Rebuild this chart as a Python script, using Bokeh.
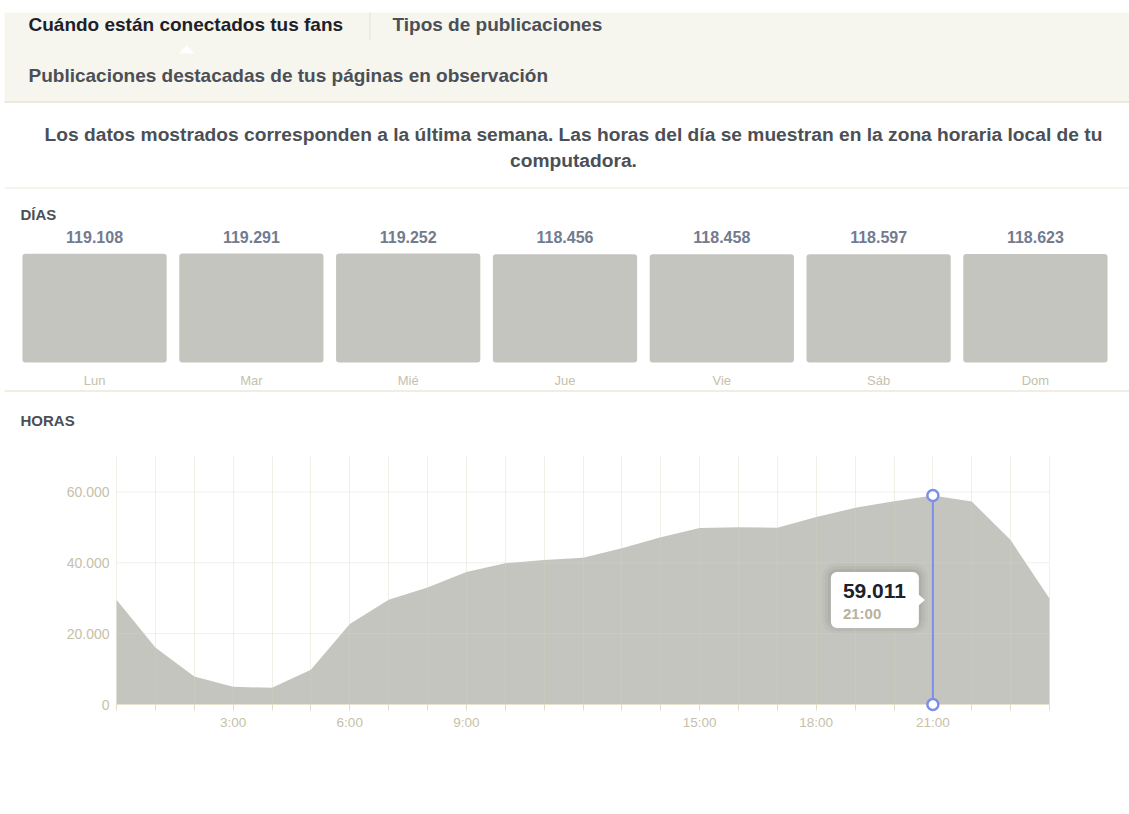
from bokeh.plotting import figure
from bokeh.layouts import column
from bokeh.models import Range1d, FactorRange, FixedTicker, LinearAxis
from bokeh.core.properties import value
from bokeh.embed import file_html
from bokeh.resources import INLINE

FONT = "Liberation Sans"

# ---------------- data ----------------
tabs = ["Cuándo están conectados tus fans", "Tipos de publicaciones",
        "Publicaciones destacadas de tus páginas en observación"]
subtitle_lines = [
    "Los datos mostrados corresponden a la última semana. Las horas del día se muestran en la zona horaria local de tu",
    "computadora.",
]
days_title = "DÍAS"
hours_title = "HORAS"
days = ["Lun", "Mar", "Mié", "Jue", "Vie", "Sáb", "Dom"]
day_fans = [119108, 119291, 119252, 118456, 118458, 118597, 118623]
hours = list(range(25))
hour_fans = [29600, 16100, 7900, 5000, 4700, 9800, 22700, 29600, 33000, 37400,
             39900, 40800, 41400, 44100, 47200, 49800, 50000, 49900, 52900,
             55500, 57400, 59011, 57300, 46400, 29900]
y_ticks = [0, 20000, 40000, 60000]
y_tick_labels = ["0", "20.000", "40.000", "60.000"]
x_label_hours = [3, 6, 9, 15, 18, 21]
x_tick_labels = ["3:00", "6:00", "9:00", "15:00", "18:00", "21:00"]
highlight_hour = 21
highlight_label = "21:00"


def fmt(n):
    return f"{n:,}".replace(",", ".")


W = 1129
DARK = "#1d2129"
GRAY = "#4b4f56"
BEIGE_LINE = "#ebe8d9"
BEIGE_TEXT = "#c5c1a9"
AREA = "#c5c5c0"
BLUE = "#7b8ee8"


def pixel_fig(top, bottom):
    f = figure(width=W, height=bottom - top, x_range=Range1d(0, W),
               y_range=Range1d(bottom, top), toolbar_location=None,
               output_backend="svg", min_border=0, x_axis_location=None,
               y_axis_location=None, outline_line_color=None)
    f.xgrid.visible = False
    f.ygrid.visible = False
    return f


def txt(f, x, y, s, size, color, bold=True, align="left"):
    f.text(x=[x], y=[y], text=[s], text_font=value(FONT), text_font_size=size,
           text_font_style="bold" if bold else "normal", text_color=color,
           text_baseline="middle", text_align=align)


# ---------------- header ----------------
A_TOP, A_BOT = 0, 226
pa = pixel_fig(A_TOP, A_BOT)
pa.quad(left=[4], right=[W], top=[12], bottom=[102],
        fill_color="#f6f5ee", line_color=None)
pa.segment(x0=[4], x1=[W], y0=[101.5], y1=[101.5], line_color="#e8e5d5", line_width=1.5)
pa.segment(x0=[369.5], x1=[369.5], y0=[12], y1=[40], line_color="#e8e5d5", line_width=1)
pa.patch([178, 186, 194], [53, 45, 53], fill_color="white", line_color=None)
txt(pa, 28, 24, tabs[0], "19px", DARK)
txt(pa, 392, 24, tabs[1], "19px", GRAY)
txt(pa, 28, 75, tabs[2], "19px", GRAY)
txt(pa, 573, 134, subtitle_lines[0], "19.2px", GRAY, align="center")
txt(pa, 573, 160, subtitle_lines[1], "19.2px", GRAY, align="center")
pa.segment(x0=[4], x1=[W], y0=[187.5], y1=[187.5], line_color=BEIGE_LINE, line_width=1)
txt(pa, 20, 214, days_title, "15px", GRAY)

# ---------------- days bars ----------------
B_TOP, B_BASE, B_BOT = 226, 362, 388
BAR_PX = 109
ubar = max(day_fans) / BAR_PX            # fans per pixel
pb = figure(width=W, height=B_BOT - B_TOP,
            x_range=FactorRange(factors=days, range_padding=0.1,
                                range_padding_units="absolute"),
            y_range=Range1d(-(B_BOT - B_BASE) * ubar, (B_BASE - B_TOP) * ubar),
            toolbar_location=None, output_backend="svg",
            min_border=0, y_axis_location=None, outline_line_color=None)
pb.xgrid.visible = False
pb.ygrid.visible = False
pb.vbar(x=days, top=day_fans, width=0.92, fill_color=AREA, line_color=None,
        border_radius=3)
pb.text(x=days, y=day_fans, text=[fmt(v) for v in day_fans], text_font=value(FONT),
        text_font_size="16px", text_font_style="bold", text_color="#727b90",
        text_align="center", text_baseline="alphabetic", y_offset=-17)
pb.xaxis.fixed_location = 0
pb.xaxis.axis_line_color = None
pb.xaxis.major_tick_line_color = None
pb.xaxis.major_tick_out = 0
pb.xaxis.major_tick_in = 0
pb.xaxis.minor_tick_line_color = None
pb.xaxis.major_label_text_font = FONT
pb.xaxis.major_label_text_font_size = "13px"
pb.xaxis.major_label_text_color = BEIGE_TEXT
pb.xaxis.major_label_standoff = 10

# ---------------- separator + HORAS ----------------
S_TOP, S_BOT = 388, 440
ps = pixel_fig(S_TOP, S_BOT)
ps.segment(x0=[4], x1=[W], y0=[390.5], y1=[390.5], line_color=BEIGE_LINE, line_width=1.5)
txt(ps, 20, 420, hours_title, "15px", GRAY)

# ---------------- hours area ----------------
C_TOP, C_BOT = 440, 814
FR_TOP, AXIS_Y, FR_BOT = 456, 704, 711
X0_PX, X1_PX = 116, 1049
Y_MAX = 70000
pphr = (X1_PX - X0_PX) / (hours[-1] - hours[0])      # pixels per hour
upx = Y_MAX / (AXIS_Y - FR_TOP)                        # fans per pixel
pc = figure(width=W, height=C_BOT - C_TOP,
            x_range=Range1d(hours[0] - X0_PX / pphr, hours[-1] + (W - X1_PX) / pphr),
            y_range=Range1d(-(FR_BOT - AXIS_Y) * upx, Y_MAX),
            toolbar_location=None, output_backend="svg",
            min_border_top=FR_TOP - C_TOP, min_border_bottom=C_BOT - FR_BOT,
            min_border_left=0, min_border_right=0,
            outline_line_color=None)
pc.varea(x=hours, y1=[0] * len(hours), y2=hour_fans, fill_color=AREA)

pc.xgrid.ticker = FixedTicker(ticks=hours)
pc.xgrid.grid_line_color = "#d6d2b8"
pc.xgrid.grid_line_alpha = 0.35
pc.xgrid.level = "annotation"
pc.ygrid.visible = False
for yt in y_ticks[1:]:
    pc.segment(x0=[hours[0]], x1=[hours[-1]], y0=[yt], y1=[yt],
               line_color="#d8d8cf", line_alpha=0.35, line_width=1, level="annotation")

overrides = {h: "" for h in hours}
overrides.update(dict(zip(x_label_hours, x_tick_labels)))

# labels-only axis at the bottom of the frame
pc.xaxis.ticker = FixedTicker(ticks=hours)
pc.xaxis.major_label_overrides = overrides
pc.xaxis.axis_line_color = None
pc.xaxis.major_tick_line_color = None
pc.xaxis.minor_tick_line_color = None
pc.xaxis.major_label_text_font = FONT
pc.xaxis.major_label_text_font_size = "13.5px"
pc.xaxis.major_label_text_color = BEIGE_TEXT
pc.xaxis.major_label_standoff = -3

# axis line + ticks at value 0
base_axis = LinearAxis(fixed_location=0, bounds=(hours[0], hours[-1]),
                       ticker=FixedTicker(ticks=hours),
                       major_label_overrides={h: "" for h in hours},
                       axis_line_color="#e6e2cd", major_tick_line_color="#e6e2cd",
                       major_tick_out=5, major_tick_in=0, minor_tick_line_color=None)
pc.add_layout(base_axis, "below")

pc.yaxis.fixed_location = hours[0]
pc.yaxis.ticker = FixedTicker(ticks=y_ticks)
pc.yaxis.major_label_overrides = dict(zip(y_ticks, y_tick_labels))
pc.yaxis.axis_line_color = None
pc.yaxis.major_tick_line_color = None
pc.yaxis.minor_tick_line_color = None
pc.yaxis.major_label_text_font = FONT
pc.yaxis.major_label_text_font_size = "14px"
pc.yaxis.major_label_text_color = BEIGE_TEXT
pc.yaxis.major_label_standoff = 1

# highlight line
hv = hour_fans[hours.index(highlight_hour)]
pc.segment(x0=[highlight_hour], x1=[highlight_hour], y0=[0], y1=[hv],
           line_color=BLUE, line_width=2, level="overlay")
pc.scatter(x=[highlight_hour, highlight_hour], y=[0, hv], size=11,
           fill_color="white", line_color=BLUE, line_width=2.5, level="overlay")

# tooltip box (pixel sizes converted into data units)
hx = 1 / pphr
cy = hv / 2
right = highlight_hour - 14 * hx
left = right - 88 * hx
for pad, alpha in [(9, 0.025), (6, 0.035), (3, 0.05)]:
    pc.quad(left=[left - pad * hx], right=[right + pad * hx],
            top=[cy + (28 + pad) * upx], bottom=[cy - (28 + pad - 3) * upx],
            fill_color="black", fill_alpha=alpha, line_color=None,
            border_radius=6 + pad, level="overlay")
pc.quad(left=[left], right=[right], top=[cy + 28 * upx], bottom=[cy - 28 * upx],
        fill_color="white", line_color=None, border_radius=6, level="overlay")
pc.patch([right - 1 * hx, right + 6 * hx, right - 1 * hx],
         [cy - 6 * upx, cy, cy + 6 * upx], fill_color="white", line_color=None,
         level="overlay")
pc.text(x=[left + 12 * hx], y=[cy], text=[fmt(hv)], text_font=value(FONT),
        text_font_size="21px", text_font_style="bold", text_color=DARK,
        text_baseline="middle", y_offset=-9, level="overlay")
pc.text(x=[left + 12 * hx], y=[cy], text=[highlight_label], text_font=value(FONT),
        text_font_size="15px", text_font_style="bold", text_color="#b7b29e",
        text_baseline="middle", y_offset=14, level="overlay")

layout = column(pa, pb, ps, pc, spacing=0)
open("out.html", "w").write(file_html(layout, INLINE))
